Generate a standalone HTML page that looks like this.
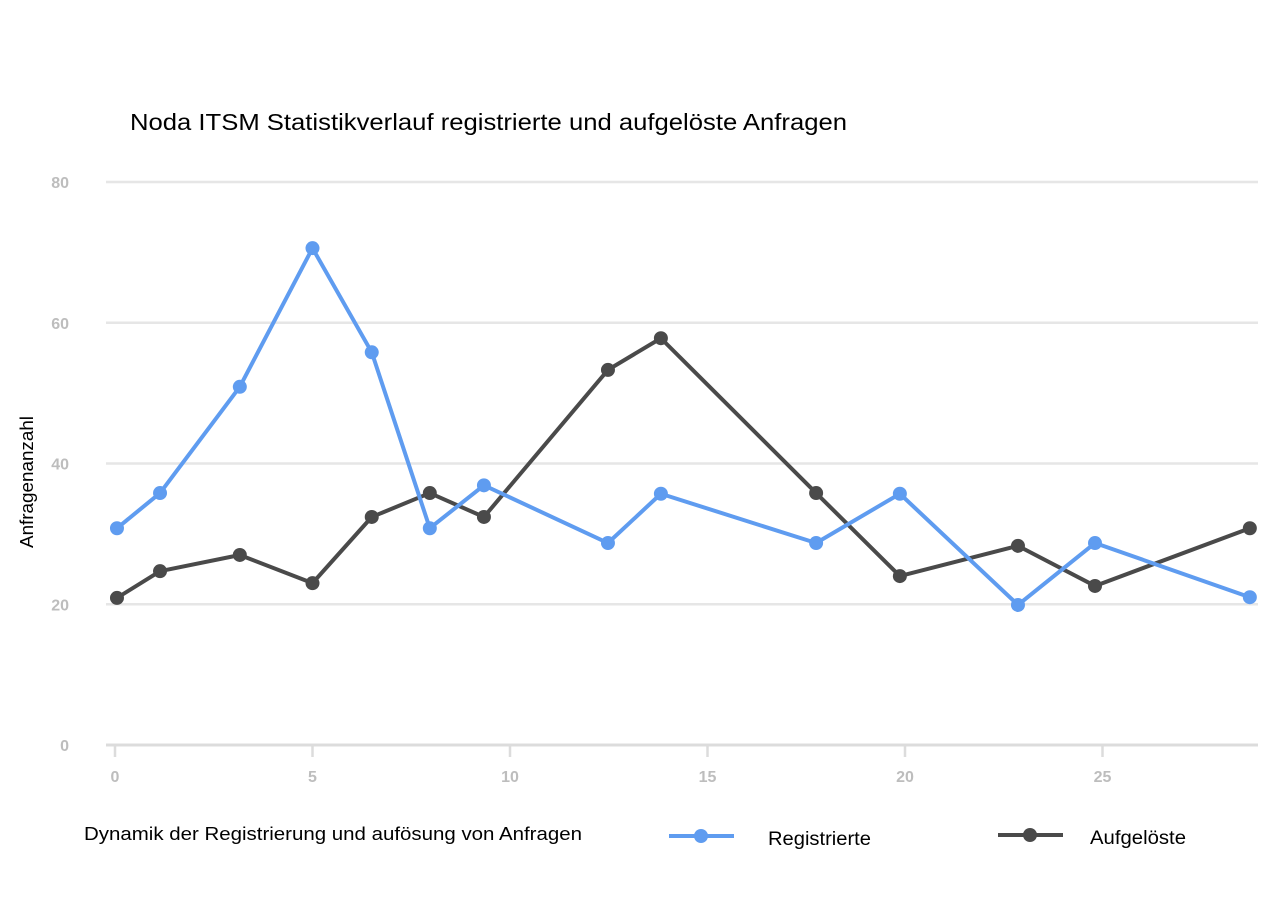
<!DOCTYPE html>
<html><head><meta charset="utf-8"><style>
body{margin:0;background:#fff;}
svg{display:block;font-family:"Liberation Sans",sans-serif;}
</style></head><body>
<svg id="chart" width="1287" height="907" viewBox="0 0 1287 907" xmlns="http://www.w3.org/2000/svg">
<text x="130" y="130" font-size="23" fill="#000" textLength="717" lengthAdjust="spacingAndGlyphs">Noda ITSM Statistikverlauf registrierte und aufgelöste Anfragen</text>
<text transform="translate(33,482) rotate(-90)" text-anchor="middle" font-size="18" fill="#000" textLength="132" lengthAdjust="spacingAndGlyphs">Anfragenanzahl</text>
<text x="84" y="840" font-size="18" fill="#000" textLength="498" lengthAdjust="spacingAndGlyphs">Dynamik der Registrierung und aufösung von Anfragen</text>
<g id="grid"></g><g id="series"></g>
<g>
 <g>
  <line x1="669" y1="836" x2="734" y2="836" stroke="#5f9cf0" stroke-width="4"/>
  <circle cx="701" cy="836" r="7" fill="#5f9cf0"/>
  <text x="768" y="845" font-size="19" fill="#000" textLength="103" lengthAdjust="spacingAndGlyphs">Registrierte</text>
 </g>
 <g>
  <line x1="998" y1="835" x2="1063" y2="835" stroke="#4a4a4a" stroke-width="4"/>
  <circle cx="1030" cy="835" r="7" fill="#4a4a4a"/>
  <text x="1090" y="844" font-size="19" fill="#000" textLength="96" lengthAdjust="spacingAndGlyphs">Aufgelöste</text>
 </g>
</g>
</svg>
<script>
const xValues=[0.05,1.14,3.16,5,6.5,7.97,9.34,12.48,13.82,17.75,19.87,22.86,24.81,28.73];
const registrierte=[30.8,35.8,50.9,70.6,55.8,30.8,36.9,28.7,35.7,28.7,35.7,19.9,28.7,21.0];
const aufgeloeste=[20.9,24.7,27.0,23.0,32.4,35.8,32.4,53.3,57.8,35.8,24.0,28.3,22.6,30.8];
const yTicks=[0,20,40,60,80];
const xTicks=[0,5,10,15,20,25];
const NS="http://www.w3.org/2000/svg";
function sx(v){return 115+v*39.5;}
function sy(v){return 745-v*7.0375;}
function mk(tag,attrs,parent){const e=document.createElementNS(NS,tag);for(const k in attrs)e.setAttribute(k,attrs[k]);parent.appendChild(e);return e;}
const grid=document.getElementById('grid');
yTicks.forEach(t=>{
 const l=mk('line',{x1:106,x2:1258,y1:sy(t),y2:sy(t),stroke:t===0?'#dcdcdc':'#e6e6e6','stroke-width':t===0?3:2.5},grid);
 
 
 const tx=mk('text',{x:69,y:sy(t)+6,'text-anchor':'end','font-size':16,'font-weight':'bold',fill:'#bdbdbd'},grid);
 tx.textContent=t;
 
 
});
xTicks.forEach(t=>{
 const l=mk('line',{x1:sx(t),x2:sx(t),y1:746,y2:757,stroke:'#dcdcdc','stroke-width':2.5},grid);
 
 
 const tx=mk('text',{x:sx(t),y:782,'text-anchor':'middle','font-size':16,'font-weight':'bold',fill:'#bdbdbd'},grid);
 tx.textContent=t;
 
 
});
const sg=document.getElementById('series');
function drawSeries(vals,color,name){
 const g=mk('g',{},sg);
 
 
 const pts=vals.map((v,i)=>sx(xValues[i])+','+sy(v)).join(' ');
 const pl=mk('polyline',{points:pts,fill:'none',stroke:color,'stroke-width':4,'stroke-linejoin':'round'},g);
 
 
 vals.forEach((v,i)=>{
  const c=mk('circle',{cx:sx(xValues[i]),cy:sy(v),r:7,fill:color},g);
  
  
 });
}
drawSeries(aufgeloeste,'#4a4a4a','aufgeloeste');
drawSeries(registrierte,'#5f9cf0','registrierte');
</script>
</body></html>
